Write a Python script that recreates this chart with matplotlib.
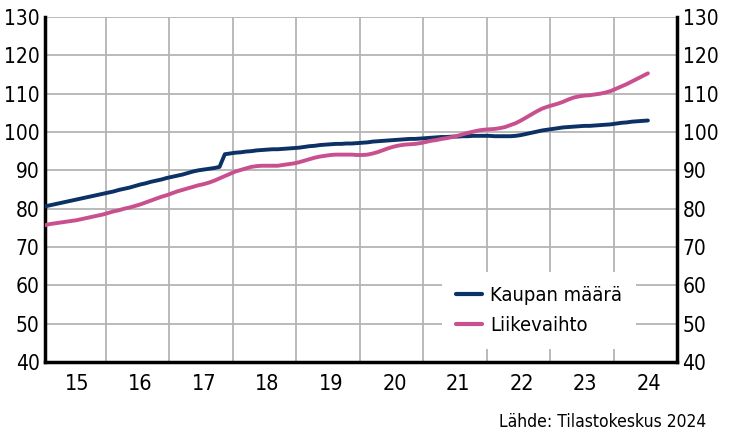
import matplotlib
matplotlib.use("Agg")
import matplotlib.pyplot as plt

# ---------------- data (monthly, Jan 2015 - Jul 2024) ----------------
start_year = 2015
kaupan_maara = [
    80.6, 80.9, 81.2, 81.5, 81.8, 82.1, 82.4, 82.7, 83.0, 83.3, 83.6, 83.9,   # 2015
    84.2, 84.5, 84.9, 85.2, 85.5, 85.9, 86.3, 86.6, 87.0, 87.3, 87.6, 88.0,   # 2016
    88.3, 88.6, 88.9, 89.3, 89.7, 90.0, 90.2, 90.4, 90.6, 90.9, 94.2, 94.4,   # 2017
    94.6, 94.7, 94.9, 95.0, 95.2, 95.3, 95.4, 95.5, 95.5, 95.6, 95.7, 95.8,   # 2018
    95.9, 96.1, 96.3, 96.4, 96.6, 96.7, 96.8, 96.9, 96.9, 97.0, 97.0, 97.1,   # 2019
    97.2, 97.3, 97.5, 97.6, 97.7, 97.8, 97.9, 98.0, 98.1, 98.2, 98.2, 98.3,   # 2020
    98.4, 98.5, 98.6, 98.7, 98.7, 98.8, 98.8, 98.9, 98.9, 99.0, 99.0, 99.0,   # 2021
    99.0, 98.9, 98.9, 98.9, 98.9, 99.0, 99.2, 99.5, 99.8, 100.1, 100.4, 100.6,  # 2022
    100.8, 101.0, 101.2, 101.3, 101.4, 101.5, 101.6, 101.6, 101.7, 101.8, 101.9, 102.0,  # 2023
    102.2, 102.4, 102.5, 102.7, 102.8, 102.9, 103.0,                          # 2024
]
liikevaihto = [
    75.7, 76.0, 76.2, 76.4, 76.6, 76.8, 77.0, 77.3, 77.6, 77.9, 78.2, 78.5,   # 2015
    78.9, 79.3, 79.6, 80.0, 80.3, 80.7, 81.1, 81.6, 82.1, 82.6, 83.1, 83.5,   # 2016
    84.0, 84.5, 84.9, 85.3, 85.7, 86.1, 86.4, 86.8, 87.3, 87.9, 88.5, 89.1,   # 2017
    89.7, 90.1, 90.5, 90.9, 91.1, 91.2, 91.2, 91.2, 91.2, 91.4, 91.6, 91.8,   # 2018
    92.1, 92.5, 92.9, 93.3, 93.6, 93.8, 94.0, 94.1, 94.1, 94.1, 94.1, 94.0,   # 2019
    94.0, 94.1, 94.4, 94.8, 95.3, 95.8, 96.2, 96.5, 96.7, 96.8, 96.9, 97.1,   # 2020
    97.4, 97.7, 97.9, 98.2, 98.4, 98.7, 99.0, 99.4, 99.8, 100.1, 100.4, 100.6,  # 2021
    100.7, 100.8, 101.0, 101.3, 101.8, 102.3, 103.0, 103.8, 104.6, 105.4, 106.1, 106.6,  # 2022
    107.0, 107.4, 107.9, 108.5, 109.0, 109.3, 109.5, 109.6, 109.8, 110.0, 110.3, 110.7,  # 2023
    111.3, 111.9, 112.5, 113.2, 113.9, 114.6, 115.3,                          # 2024
]
series_names = ["Kaupan määrä", "Liikevaihto"]
year_labels = ["15", "16", "17", "18", "19", "20", "21", "22", "23", "24"]
y_ticks = [40, 50, 60, 70, 80, 90, 100, 110, 120, 130]
source_text = "Lähde: Tilastokeskus 2024"

# ---------------- style ----------------
plt.rcParams["font.family"] = ["DejaVu Sans"]
plt.rcParams["font.stretch"] = "condensed"

navy = "#0b3166"
pink = "#c9508e"
grid_c = "#b4b4b4"

fig = plt.figure(figsize=(7.29, 4.32), dpi=100)
ax = fig.add_axes([45 / 729, 1 - 362 / 432, (677 - 45) / 729, (362 - 17) / 432])

n = len(kaupan_maara)
t = [start_year + (i + 0.5) / 12 for i in range(n)]

ax.plot(t, kaupan_maara, color=navy, lw=2.8, label=series_names[0], solid_capstyle="round", zorder=3)
ax.plot(t, liikevaihto, color=pink, lw=2.8, label=series_names[1], solid_capstyle="round", zorder=3)

ax.set_xlim(start_year + 0.5 / 12, 2025.0)
ax.set_ylim(40, 130)

years = [start_year + i for i in range(len(year_labels))]
ax.set_xticks(years[1:])
ax.set_xticklabels([])
ax.set_xticks([y + 0.55 for y in years], minor=True)
ax.set_xticklabels(year_labels, minor=True, fontsize=15.5)
ax.tick_params(axis="x", which="both", length=0, pad=9)

ax.set_yticks(y_ticks)
ax.set_yticklabels([str(v) for v in y_ticks], fontsize=15)
ax.tick_params(axis="y", length=0, pad=4, labelleft=True, labelright=True)

ax.grid(True, which="major", color=grid_c, lw=1.3)
ax.set_axisbelow(True)

for side in ["left", "right", "bottom"]:
    ax.spines[side].set_linewidth(2.5)
    ax.spines[side].set_color("black")
ax.spines["top"].set_visible(False)

leg = ax.legend(loc="upper left", bbox_to_anchor=((442 - 45) / 632, (362 - 272) / 345),
                frameon=True, fontsize=14.5,
                handlelength=1.3, handletextpad=0.4, labelspacing=0.55, borderpad=0.7,
                borderaxespad=0)
leg.get_frame().set_edgecolor("none")
leg.get_frame().set_facecolor("white")
leg.get_frame().set_alpha(1)
for line in leg.get_lines():
    line.set_linewidth(3)

fig.text(706 / 729, 1 - 422 / 432, source_text, ha="right", va="center", fontsize=12.5)

fig.savefig("out.png", dpi=100)
